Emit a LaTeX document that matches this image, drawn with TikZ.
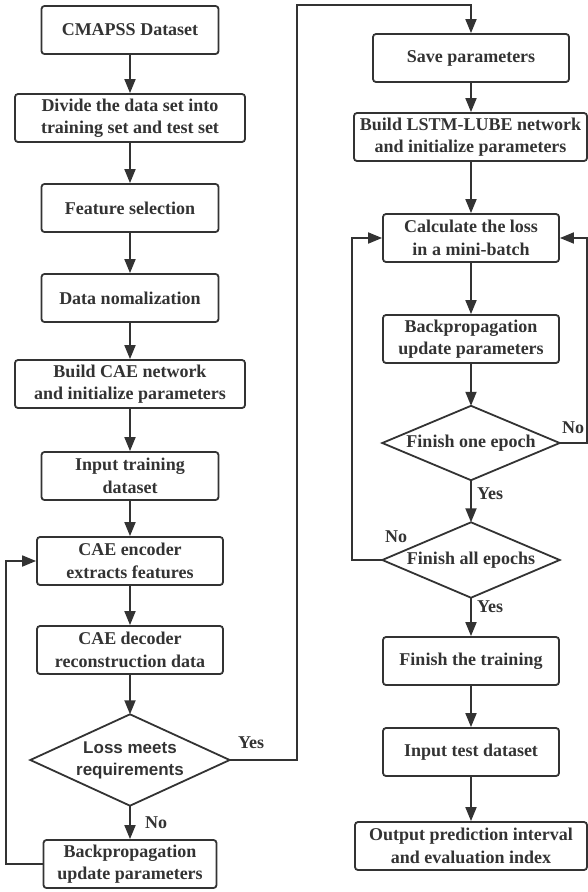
\documentclass[tikz,border=0pt]{standalone}
\usepackage{fontspec}
\setmainfont{Liberation Serif}
\newfontfamily\diasans{Liberation Sans}
\usetikzlibrary{arrows.meta}
\definecolor{ink}{HTML}{333333}
\tikzset{
  procbox/.style={draw=ink, line width=1.8pt, rounded corners=3pt, minimum height=48pt,
    align=center, text=ink, font=\fontsize{18}{22.5}\selectfont\bfseries, inner sep=0pt},
  diabox/.style={minimum height=#1, align=center, text=ink, inner sep=0pt,
    font=\fontsize{18}{22.5}\selectfont\bfseries},
  diaedge/.style={draw=ink, line width=1.8pt},
  flow/.style={draw=ink, line width=1.8pt, -{Triangle[length=14pt,width=11pt]}},
  lbl/.style={text=ink, font=\fontsize{18}{21}\selectfont\bfseries, inner sep=0pt}
}
\begin{document}
\begin{tikzpicture}[x=1pt,y=-1pt]
\useasboundingbox (0,0) rectangle (588,892);
% left column
\node[procbox, minimum width=177pt] (cmapss) at (130,30) {CMAPSS Dataset};
\node[procbox, minimum width=230pt] (divide) at (130,118) {Divide the data set into\\training set and test set};
\node[procbox, minimum width=177pt] (feat) at (130,208) {Feature selection};
\node[procbox, minimum width=177pt] (norm) at (130,298) {Data nomalization};
\node[procbox, minimum width=230pt] (cae) at (130,384) {Build CAE network\\and initialize parameters};
\node[procbox, minimum width=177pt] (intrain) at (130,476) {Input training\\dataset};
\node[procbox, minimum width=186pt] (enc) at (130,561) {CAE encoder\\extracts features};
\node[procbox, minimum width=186pt] (dec) at (130,650) {CAE decoder\\reconstruction data};
\node[diabox=91pt, minimum width=199pt, font=\fontsize{17}{22}\selectfont\diasans\bfseries] (loss) at (130,760) {Loss meets\\requirements};
\draw[diaedge] (loss.north) -- (loss.east) -- (loss.south) -- (loss.west) -- cycle;
\node[procbox, minimum width=173pt] (bp) at (130,864) {Backpropagation\\update parameters};
% right column
\node[procbox, minimum width=196pt] (save) at (471,58) {Save parameters};
\node[procbox, minimum width=233pt] (lstm) at (470.5,137) {Build LSTM-LUBE network\\and initialize parameters};
\node[procbox, minimum width=176pt] (calc) at (471,238) {Calculate the loss\\in a mini-batch};
\node[procbox, minimum width=176pt] (bp2) at (471,339) {Backpropagation\\update parameters};
\node[diabox=74pt, minimum width=177pt] (ep1) at (471,443) {Finish one epoch};
\draw[diaedge] (ep1.north) -- (ep1.east) -- (ep1.south) -- (ep1.west) -- cycle;
\node[diabox=75pt, minimum width=177pt] (ep2) at (471,560) {Finish all epochs};
\draw[diaedge] (ep2.north) -- (ep2.east) -- (ep2.south) -- (ep2.west) -- cycle;
\node[procbox, minimum width=176pt] (fin) at (471,661) {Finish the training};
\node[procbox, minimum width=176pt] (test) at (471,752) {Input test dataset};
\node[procbox, minimum width=232pt] (out) at (471,846) {Output prediction interval\\and evaluation index};
% coordinates
\coordinate (ltop) at (297,5);
\coordinate (rtop) at (471,5);
\coordinate (lloop) at (6,0);
\coordinate (mloop) at (352,0);
\coordinate (rloop) at (587,0);
% left connectors
\draw[flow] (cmapss) -- (divide);
\draw[flow] (divide) -- (feat);
\draw[flow] (feat) -- (norm);
\draw[flow] (norm) -- (cae);
\draw[flow] (cae) -- (intrain);
\draw[flow] (intrain) -- (enc);
\draw[flow] (enc) -- (dec);
\draw[flow] (dec) -- (loss.north);
\draw[flow] (loss.south) -- (bp);
\draw[flow] (bp.west) -- (bp.west -| lloop) -- (enc.west -| lloop) -- (enc.west);
\draw[flow] (loss.east) -| (ltop) -- (rtop) -- (save.north);
% right connectors
\draw[flow] (save) -- (save |- lstm.north);
\draw[flow] (lstm.south -| calc) -- (calc);
\draw[flow] (calc) -- (bp2);
\draw[flow] (bp2) -- (ep1.north);
\draw[flow] (ep1.south) -- (ep2.north);
\draw[flow] (ep1.east) -- (ep1.east -| rloop) -- (calc.east -| rloop) -- (calc.east);
\draw[flow] (ep2.west) -- (ep2.west -| mloop) -- (calc.west -| mloop) -- (calc.west);
\draw[flow] (ep2.south) -- (fin);
\draw[flow] (fin) -- (test);
\draw[flow] (test) -- (out);
% labels
\node[lbl, anchor=west] (lyes) at (238,743) {Yes};
\node[lbl, anchor=west] (lno) at (145,823) {No};
\node[lbl, anchor=west] (eno) at (562,428) {No};
\node[lbl, anchor=west] (eyes1) at (477,494) {Yes};
\node[lbl, anchor=west] (eno2) at (385,537) {No};
\node[lbl, anchor=west] (eyes2) at (477,607) {Yes};
\end{tikzpicture}
\end{document}
